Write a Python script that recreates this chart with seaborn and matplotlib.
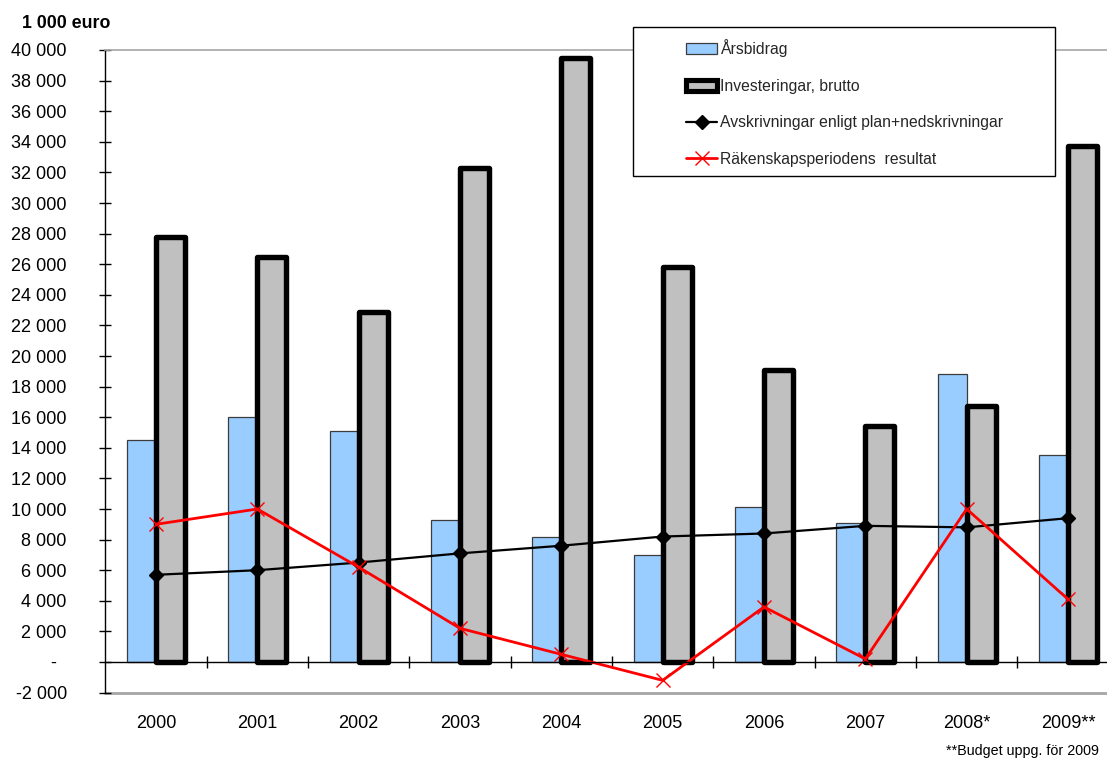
import numpy as np
import pandas as pd
import matplotlib
matplotlib.use("Agg")
import matplotlib.pyplot as plt
from matplotlib.patches import Patch, Rectangle
from matplotlib.lines import Line2D
from matplotlib.ticker import FixedLocator, FuncFormatter
import seaborn as sns

# --- data (1 000 euro) ---
years = ["2000", "2001", "2002", "2003", "2004", "2005", "2006", "2007", "2008*", "2009**"]
arsbidrag = [14500, 16000, 15100, 9300, 8200, 7000, 10100, 9100, 18800, 13500]
investeringar = [27800, 26500, 22900, 32300, 39500, 25800, 19100, 15400, 16700, 33700]
avskrivningar = [5700, 6000, 6500, 7100, 7600, 8200, 8400, 8900, 8800, 9400]
resultat = [9000, 10000, 6200, 2200, 500, -1200, 3600, 200, 10000, 4100]

series_bars = ["Årsbidrag", "Investeringar, brutto"]
label_avskr = "Avskrivningar enligt plan+nedskrivningar"
label_res = "Räkenskapsperiodens  resultat"
y_ticks = list(range(-2000, 40001, 2000))

BLUE = "#99CCFF"
GREY = "#C0C0C0"
RED = "#FF0000"

sns.set_theme(style="white")
plt.rcParams["font.family"] = ["Liberation Sans", "DejaVu Sans"]

W, H = 1107, 758
fig = plt.figure(figsize=(W / 100, H / 100), dpi=100)
fig.patch.set_facecolor("white")

# plot area; the last category runs slightly past the right edge of the image
left_px, right_px, top_px, bottom_px = 105.3, 1118.7, 50.0, 692.6
ax = fig.add_axes([left_px / W, 1 - bottom_px / H,
                   (right_px - left_px) / W, (bottom_px - top_px) / H])

bars = pd.DataFrame({
    "År": years * 2,
    "Serie": [series_bars[0]] * len(years) + [series_bars[1]] * len(years),
    "Värde": arsbidrag + investeringar,
})

sns.barplot(data=bars, x="År", y="Värde", hue="Serie", hue_order=series_bars,
            palette=[BLUE, GREY], saturation=1, width=0.57, gap=0,
            errorbar=None, legend=False, ax=ax)

for p in ax.containers[0]:
    p.set_edgecolor("#3c3c3c")
    p.set_linewidth(0.9)
for p in ax.containers[1]:
    p.set_edgecolor("black")
    p.set_linewidth(3.9)
    p.set_joinstyle("round")

sns.pointplot(x=years, y=avskrivningar, color="black", markers="D",
              errorbar=None, ax=ax, linewidth=1.6, markersize=7,
              markeredgewidth=1)
sns.pointplot(x=years, y=resultat, color=RED, markers="x",
              errorbar=None, ax=ax, linewidth=2.0, markersize=10,
              markeredgewidth=1.0)

ax.set_xlim(-0.5, len(years) - 0.5)
ax.set_ylim(-2000, 40000)
ax.set_xlabel("")
ax.set_ylabel("")

# y axis
ax.yaxis.set_major_locator(FixedLocator(y_ticks))


def thousands(v, pos):
    if v == 0:
        return "-  "
    s = f"{abs(int(round(v))):,}".replace(",", " ")
    return ("-" if v < 0 else "") + s


ax.yaxis.set_major_formatter(FuncFormatter(thousands))
ax.tick_params(axis="y", which="major", direction="inout", length=9,
               width=1, color="black", pad=23.2, labelsize=13,
               labelcolor="black", left=True)

# category axis sits on the zero line
ax.spines["bottom"].set_position(("data", 0))
ax.spines["bottom"].set_color("black")
ax.spines["bottom"].set_linewidth(1)
ax.spines["left"].set_color("black")
ax.spines["left"].set_linewidth(1)
ax.spines["top"].set_visible(True)
ax.spines["top"].set_color("#A6A6A6")
ax.spines["top"].set_linewidth(1.2)
ax.spines["right"].set_visible(False)

ax.xaxis.set_minor_locator(FixedLocator(np.arange(0.5, len(years) - 1, 1.0)))
ax.tick_params(axis="x", which="major", length=0, pad=38, labelsize=13,
               labelcolor="black", bottom=True)
ax.tick_params(axis="x", which="minor", direction="inout", length=9,
               width=1, color="black", bottom=True)

ax.axhline(-2000, color="#A6A6A6", linewidth=2, clip_on=False, zorder=0.5)
ax.grid(False)

# unit label
fig.text(22 / W, 1 - 23 / H, "1 000 euro", fontsize=12.8, fontweight="bold",
         ha="left", va="center", color="black")

# legend box
fig.add_artist(Rectangle((633 / W, 1 - 176 / H), 422 / W, 149 / H,
                         transform=fig.transFigure, facecolor="white",
                         edgecolor="black", linewidth=1, zorder=3))

handles = [
    Patch(facecolor=BLUE, edgecolor="#3c3c3c", linewidth=0.9),
    Patch(facecolor=GREY, edgecolor="black", linewidth=3.7, joinstyle="round"),
    Line2D([], [], color="black", linewidth=1.6, marker="D", markersize=7),
    Line2D([], [], color=RED, linewidth=2.0, marker="x", markersize=10,
           markeredgewidth=1.0),
]
labels = [series_bars[0], series_bars[1], label_avskr, label_res]
leg = fig.legend(handles, labels, loc="upper left",
                 bbox_to_anchor=(686 / W, 1 - 39 / H),
                 frameon=False, fontsize=11.3, borderpad=0, borderaxespad=0,
                 handlelength=2.0, handleheight=0.7, handletextpad=0.15,
                 labelspacing=1.38)
leg.set_zorder(5)

# footnote
fig.text(1099 / W, 1 - 751 / H, "**Budget uppg. för 2009", fontsize=10.3,
         ha="right", va="center", color="black")

fig.savefig("out.png", dpi=100)
